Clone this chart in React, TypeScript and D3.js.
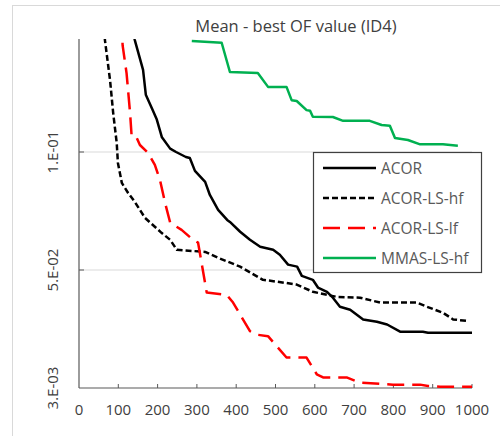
import { useEffect, useRef } from "react";
import * as d3 from "d3";

// iterations / mean best OF value
const acorX = [130, 142, 163, 170, 186, 198, 211, 232, 247, 272, 282, 295, 321, 333, 354, 377, 384, 410, 435, 461, 494, 511, 532, 555, 567, 595, 608, 631, 646, 664, 690, 723, 758, 784, 817, 875, 888, 1000];
const acorY = [0.22, 0.193, 0.162, 0.14, 0.129, 0.121, 0.109, 0.102, 0.1, 0.0971, 0.0965, 0.0895, 0.0839, 0.0777, 0.0712, 0.0671, 0.0663, 0.0626, 0.0597, 0.0573, 0.0563, 0.0547, 0.0516, 0.051, 0.0483, 0.0472, 0.0451, 0.044, 0.0425, 0.0403, 0.0396, 0.0374, 0.0369, 0.0363, 0.0348, 0.0348, 0.0346, 0.0346];

const hfX = [60, 66, 79, 87, 96, 99, 109, 125, 142, 168, 210, 232, 249, 321, 354, 410, 468, 503, 554, 595, 656, 715, 766, 859, 885, 926, 952, 986];
const hfY = [0.23, 0.193, 0.1525, 0.1257, 0.1054, 0.0938, 0.0834, 0.0786, 0.0746, 0.0679, 0.0622, 0.0597, 0.0563, 0.0556, 0.0537, 0.051, 0.0472, 0.0467, 0.0459, 0.044, 0.0427, 0.0425, 0.0413, 0.0413, 0.0403, 0.0389, 0.0374, 0.0371];

const lfX = [108, 111, 121, 130, 134, 147, 155, 176, 193, 206, 219, 232, 261, 290, 303, 325, 376, 392, 435, 452, 481, 528, 579, 605, 621, 681, 715, 799, 868, 888, 919, 1000];
const lfY = [0.22, 0.187, 0.159, 0.1257, 0.1094, 0.1086, 0.1042, 0.0994, 0.0927, 0.0849, 0.0742, 0.066, 0.0633, 0.0597, 0.0587, 0.0438, 0.0432, 0.0413, 0.0349, 0.0342, 0.0339, 0.0299, 0.0299, 0.0271, 0.0266, 0.0266, 0.0258, 0.0255, 0.0255, 0.0253, 0.0252, 0.0252];

const mmasX = [287, 363, 384, 455, 481, 528, 541, 554, 579, 588, 595, 646, 672, 740, 770, 791, 804, 837, 868, 926, 964];
const mmasY = [0.192, 0.19, 0.16, 0.159, 0.1466, 0.1466, 0.1356, 0.1349, 0.1279, 0.1274, 0.123, 0.1228, 0.1201, 0.1201, 0.1172, 0.1167, 0.1086, 0.1073, 0.1046, 0.1046, 0.1038];

const seriesNames = ["ACOR", "ACOR-LS-hf", "ACOR-LS-lf", "MMAS-LS-hf"];
const seriesColors = ["#000000", "#000000", "#ff0000", "#00b050"];
const seriesDash = [null, "6,3", "17,8", null];

const xTicks = [0, 100, 200, 300, 400, 500, 600, 700, 800, 900, 1000];
const yTicks = [0.1, 0.05, 0.025];
const yTickLabels = ["1.E-01", "5.E-02", "3.E-03"];

const FONT = "'Open Sans', sans-serif";

const App = () => {
    const ref = useRef<SVGSVGElement>(null);

    useEffect(() => {
        const svg = d3.select(ref.current);
        svg.selectAll("*").remove();

        const x = d3.scaleLinear().domain([0, 1000]).range([79, 472]);
        const y = d3.scaleLog().domain([0.025, 0.2]).range([388, 34]);
        const top = 39;

        // outer chart frame
        svg.append("rect")
            .attr("x", 12.5).attr("y", 5.5).attr("width", 700).attr("height", 700)
            .attr("fill", "#fff").attr("stroke", "#d9d9d9");

        svg.append("text")
            .attr("x", 296).attr("y", 32)
            .attr("text-anchor", "middle")
            .attr("font-family", FONT).attr("font-size", 16.5)
            .attr("fill", "#404040")
            .text("Mean - best OF value (ID4)");

        // gridlines
        svg.selectAll(".grid")
            .data(yTicks.slice(0, 2))
            .enter().append("line")
            .attr("x1", x(0)).attr("x2", x(1000))
            .attr("y1", d => y(d)).attr("y2", d => y(d))
            .attr("stroke", "#d9d9d9").attr("stroke-width", 1.2);

        // axes
        svg.append("line")
            .attr("x1", x(0)).attr("x2", x(0)).attr("y1", top).attr("y2", y(0.025))
            .attr("stroke", "#595959").attr("stroke-width", 1.2);
        svg.append("line")
            .attr("x1", x(0)).attr("x2", x(1000)).attr("y1", y(0.025)).attr("y2", y(0.025))
            .attr("stroke", "#595959").attr("stroke-width", 1.2);

        svg.selectAll(".xtick")
            .data(xTicks.slice(1))
            .enter().append("line")
            .attr("x1", d => x(d)).attr("x2", d => x(d))
            .attr("y1", y(0.025) - 4).attr("y2", y(0.025))
            .attr("stroke", "#595959");

        svg.selectAll(".xlab")
            .data(xTicks)
            .enter().append("text")
            .attr("x", d => x(d)).attr("y", 415)
            .attr("text-anchor", "middle")
            .attr("font-family", FONT).attr("font-size", 15)
            .attr("fill", "#404040")
            .text(d => d);

        svg.selectAll(".ytick")
            .data(yTicks.slice(0, 2))
            .enter().append("line")
            .attr("x1", x(0)).attr("x2", x(0) + 5)
            .attr("y1", d => y(d)).attr("y2", d => y(d))
            .attr("stroke", "#595959");

        svg.selectAll(".ylab")
            .data(yTicks)
            .enter().append("text")
            .attr("transform", d => `translate(58,${y(d)}) rotate(-90)`)
            .attr("text-anchor", "middle")
            .attr("font-family", FONT).attr("font-size", 15)
            .attr("fill", "#404040")
            .text((d, i) => yTickLabels[i]);

        svg.append("clipPath").attr("id", "plot")
            .append("rect")
            .attr("x", x(0)).attr("y", top)
            .attr("width", x(1000) - x(0) + 5).attr("height", y(0.025) - top);

        const line = d3.line<[number, number]>()
            .x(d => x(d[0]))
            .y(d => y(d[1]));

        const allX = [acorX, hfX, lfX, mmasX];
        const allY = [acorY, hfY, lfY, mmasY];

        [3, 0, 1, 2].forEach(i => {
            const pts = allX[i].map((v, j) => [v, allY[i][j]] as [number, number]);
            svg.append("path")
                .attr("clip-path", "url(#plot)")
                .attr("d", line(pts))
                .attr("fill", "none")
                .attr("stroke", seriesColors[i])
                .attr("stroke-width", 2.5)
                .attr("stroke-linejoin", "round")
                .attr("stroke-dasharray", seriesDash[i]);
        });

        // legend
        const lg = svg.append("g");
        lg.append("rect")
            .attr("x", 313.5).attr("y", 152.5).attr("width", 168).attr("height", 120)
            .attr("fill", "#fff").attr("stroke", "#404040").attr("stroke-width", 1.2);
        seriesNames.forEach((name, i) => {
            const ly = 168 + i * 30;
            lg.append("line")
                .attr("x1", 323).attr("x2", 376).attr("y1", ly).attr("y2", ly)
                .attr("stroke", seriesColors[i]).attr("stroke-width", 2.5)
                .attr("stroke-dasharray", seriesDash[i]);
            lg.append("text")
                .attr("x", 381).attr("y", ly + 5.5)
                .attr("font-family", FONT).attr("font-size", 15.5)
                .attr("fill", "#595959")
                .text(name);
        });
    }, []);

    return (
        <svg ref={ref} width={500} height={436}
            style={{ position: "absolute", left: 0, top: 0, background: "#fff" }} />
    );
};

export default App;
